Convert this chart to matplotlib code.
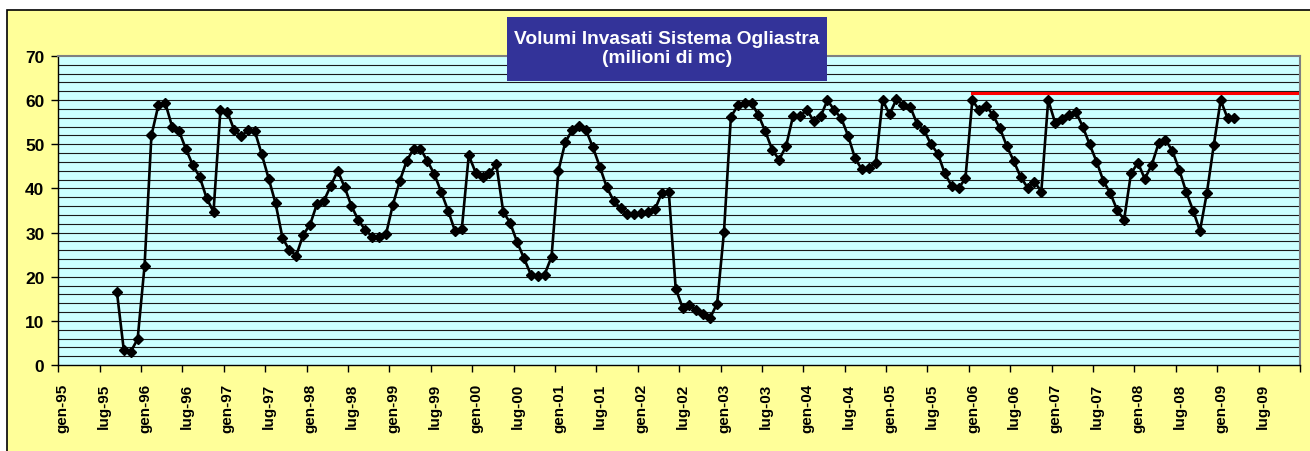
import matplotlib.pyplot as plt
from matplotlib.patches import Rectangle
from matplotlib.transforms import ScaledTranslation

plt.rcParams['font.family'] = ['Liberation Sans', 'DejaVu Sans']

# volumi invasati (milioni di mc), mensili da set-95 a mar-09
inizio = 'set-95'
volumi = [
    16.5, 3.3, 3.0, 5.9,                                                   # 1995 (set-dic)
    22.4, 52.0, 58.8, 59.4, 54.0, 53.0, 48.9, 45.3, 42.6, 37.8, 34.7, 57.7,  # 1996
    57.4, 53.2, 51.8, 53.2, 52.9, 47.7, 42.2, 36.6, 28.8, 26.0, 24.8, 29.5,  # 1997
    31.8, 36.5, 37.2, 40.6, 44.0, 40.3, 36.0, 32.8, 30.6, 29.1, 29.1, 29.6,  # 1998
    36.3, 41.7, 46.2, 49.0, 49.0, 46.2, 43.3, 39.2, 35.0, 30.4, 30.9, 47.5,  # 1999
    43.6, 42.7, 43.4, 45.5, 34.7, 32.2, 27.9, 24.2, 20.5, 20.2, 20.5, 24.5,  # 2000
    44.0, 50.5, 53.2, 54.2, 53.2, 49.3, 44.9, 40.3, 37.2, 35.5, 34.1, 34.1,  # 2001
    34.4, 34.7, 35.3, 39.0, 39.2, 17.3, 13.0, 13.5, 12.5, 11.5, 10.7, 13.9,  # 2002
    30.2, 56.2, 58.8, 59.3, 59.3, 56.6, 52.9, 48.7, 46.5, 49.6, 56.3, 56.3,  # 2003
    57.8, 55.3, 56.3, 60.0, 57.7, 55.9, 51.9, 46.8, 44.3, 44.6, 45.8, 60.0,  # 2004
    56.8, 60.2, 58.8, 58.5, 54.6, 53.2, 50.0, 47.9, 43.4, 40.6, 40.0, 42.3,  # 2005
    60.0, 57.7, 58.7, 56.6, 53.6, 49.6, 46.2, 42.6, 40.2, 41.5, 39.3, 60.0,  # 2006
    54.9, 55.8, 56.6, 57.4, 54.0, 50.0, 46.1, 41.7, 38.9, 35.1, 32.9, 43.4,  # 2007
    45.8, 42.2, 45.3, 50.2, 51.0, 48.5, 44.2, 39.2, 35.0, 30.4, 39.0, 49.8,  # 2008
    60.0, 55.9, 55.9,                                                      # 2009 (gen-mar)
]

# limite (linea rossa)
limite_valore = 61.6
limite_da = 'gen-06'
limite_a = 'dic-09'

mesi = ['gen', 'feb', 'mar', 'apr', 'mag', 'giu', 'lug', 'ago', 'set', 'ott', 'nov', 'dic']
anni = list(range(1995, 2010))
categorie = ['%s-%02d' % (m, a % 100) for a in anni for m in mesi]
etichette = [c for c in categorie if c[:3] in ('gen', 'lug')]

titolo = 'Volumi Invasati Sistema Ogliastra\n(milioni di mc)'

W, H = 1310, 452
fig = plt.figure(figsize=(W / 100, H / 100), dpi=100)
fig.patch.set_facecolor('white')

# sfondo giallo dell'area grafico
fig.patches.append(Rectangle((7 / W, -0.1), 1.5, (H - 11) / H + 0.1, transform=fig.transFigure,
                             facecolor='#FFFF99', edgecolor='black', linewidth=1.2, zorder=-10))

ax = fig.add_axes([58.3 / W, (H - 366) / H, (1300 - 58.3) / W, (366 - 57) / H])
ax.set_facecolor('#CCFFFF')

i0 = categorie.index(inizio)
xs = [i0 + k + 0.5 for k in range(len(volumi))]
ax.plot(xs, volumi, color='black', linewidth=1.9, marker='D', markersize=5.2, zorder=3)

a, b = categorie.index(limite_da), categorie.index(limite_a)
xr = [i + 0.5 for i in range(a, b + 1)]
ax.plot(xr, [limite_valore] * len(xr), color='#FF0000', linewidth=2.2, zorder=3)

ax.set_xlim(0, len(categorie))
ax.set_ylim(0, 70)
for yv in range(2, 70, 2):
    ax.axhline(yv, color='#1a1a1a', linewidth=0.8, zorder=1)

ax.set_yticks(range(0, 71, 10))
ax.set_yticklabels([str(v) for v in range(0, 71, 10)], fontsize=12.5, fontweight='bold')
ax.set_xticks(list(range(0, len(categorie) + 1, 6)))
ax.set_xticklabels(etichette + [''], rotation=90, fontsize=11, fontweight='bold')
ax.tick_params(axis='both', direction='out', length=5, width=1, color='black')
ax.tick_params(axis='y', pad=5)
ax.tick_params(axis='x', pad=8)
sposta = ScaledTranslation(4 / 100, 0, fig.dpi_scale_trans)
for lab in ax.get_xticklabels():
    lab.set_transform(lab.get_transform() + sposta)

for s in ('top', 'right'):
    ax.spines[s].set_color('#808080')
    ax.spines[s].set_linewidth(1.5)
for s in ('left', 'bottom'):
    ax.spines[s].set_color('black')
    ax.spines[s].set_linewidth(1)

# riquadro del titolo
fig.patches.append(Rectangle((507 / W, (H - 82) / H), 320 / W, 64 / H, transform=fig.transFigure,
                             facecolor='#333399', edgecolor='none', zorder=5))
fig.text(667 / W, (H - 49) / H, titolo, ha='center', va='center', color='white',
         fontsize=13.8, fontweight='bold', linespacing=1.2, zorder=6)

fig.savefig('out.png', dpi=100)
